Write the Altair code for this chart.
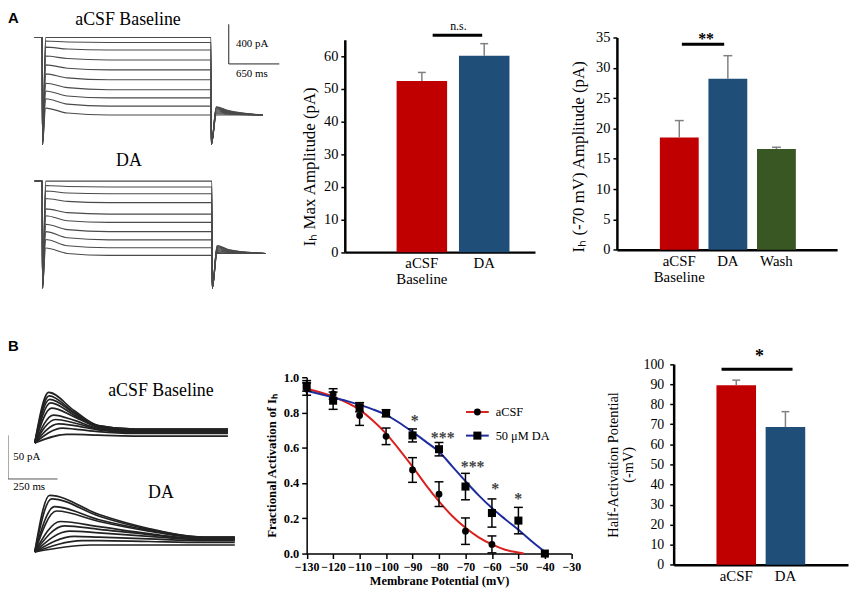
import altair as alt
import pandas as pd

SERIF = "Liberation Serif"
SANS = "Liberation Sans"

RED = "#C00000"
BLUE = "#1F4E79"
GREEN = "#385723"
ERRC = "#808080"
FIT_RED = "#D9211E"
FIT_BLUE = "#1F2C9E"

# ---------------- Panel A: Ih current traces (pA vs ms) ----------------
a_base_times = [0, 96, 100, 140, 420, 950, 2266, 2271, 2335, 2480, 2930]
a_da_times = [0, 96, 100, 140, 420, 950, 2278, 2283, 2345, 2490, 2970]
a_spike = -1080
a_base_peak = [0, -35, -97, -187, -277, -367, -462, -540, -618, -713]
a_base_mid = [0, -45, -117, -213, -310, -408, -506, -590, -673, -763]
a_base_steady = [0, -50, -127, -227, -327, -427, -527, -610, -693, -783]
a_base_tail_peak = [-700, -705, -712, -720, -730, -740, -750, -760, -770, -783]
a_base_tail_mid = [-735, -740, -745, -750, -755, -760, -765, -770, -775, -783]
a_base_tail_end = -783
a_da_peak = [0, -45, -100, -175, -280, -350, -435, -510, -590, -675]
a_da_mid = [0, -55, -120, -205, -318, -400, -490, -572, -652, -730]
a_da_steady = [0, -60, -127, -217, -333, -417, -510, -593, -673, -750]
a_da_tail_peak = [-650, -655, -662, -670, -680, -690, -700, -710, -720, -730]
a_da_tail_mid = [-690, -695, -700, -705, -710, -715, -720, -722, -726, -730]
a_da_tail_end = -730
a_da_offset = -1450

# ---------------- Panel A: bar charts ----------------
max_cats = ["aCSF Baseline", "DA"]
max_vals = [52.4, 60.1]
max_errs = [2.6, 3.7]

amp_cats = ["aCSF Baseline", "DA", "Wash"]
amp_vals = [18.5, 28.2, 16.6]
amp_errs = [2.8, 3.8, 0.3]

# ---------------- Panel B: tail current traces (pA vs ms) ----------------
b_start = -5
b_base_tpeak = [70, 72, 75, 80, 85, 95, 105, 120, 140, 160]
b_base_peak = [53, 49, 45, 41, 35, 27, 22, 17, 12, 5]
b_base_times = [200, 320, 500, 975]
b_base_v200 = [32, 30, 29, 27, 25, 21, 18, 15, 11, 5]
b_base_v320 = [15, 15, 14, 14, 13, 12, 11, 10, 8, 4]
b_base_plat = [11, 11, 10, 10, 9, 9, 8, 7, 6, 3]
b_da_tpeak = [75, 85, 100, 110, 130, 150, 175, 200, 240, 280]
b_da_peak = [60, 56, 47, 42, 30, 25, 19, 13, 8, 3]
b_da_times = [325, 575, 850, 1010]
b_da_v325 = [38, 36, 32, 30, 24, 21, 17, 12, 8, 3]
b_da_v575 = [22, 21, 20, 19, 16, 15, 13, 10, 7, 3]
b_da_plat = [12, 12, 11, 11, 10, 10, 9, 8, 6, 3]
b_da_offset = -125

# ---------------- Panel B: activation curves ----------------
series_names = ["aCSF", "50 μM DA"]
acsf_V = [-130, -120, -110, -100, -90, -80, -70, -60, -40]
acsf_mean = [0.933, 0.905, 0.783, 0.665, 0.474, 0.337, 0.127, 0.052, 0.0]
acsf_err = [0.035, 0.03, 0.056, 0.047, 0.07, 0.07, 0.075, 0.048, 0.0]
da_V = [-130, -120, -110, -100, -90, -80, -70, -60, -50, -40]
da_mean = [0.951, 0.867, 0.830, 0.796, 0.670, 0.592, 0.380, 0.230, 0.187, 0.0]
da_err = [0.03, 0.049, 0.026, 0.02, 0.037, 0.038, 0.075, 0.08, 0.075, 0.0]

fit_acsf_V = [-130, -125, -120, -115, -110, -105, -100, -95, -90, -85, -80, -75, -70, -65, -60, -55, -50, -48]
fit_acsf = [0.935, 0.915, 0.89, 0.857, 0.815, 0.755, 0.68, 0.59, 0.493, 0.39, 0.296, 0.213, 0.146, 0.092,
            0.052, 0.022, 0.006, 0.0]
fit_da_V = [-130, -125, -120, -115, -110, -105, -100, -95, -90, -85, -80, -75, -70, -65, -60, -55, -50, -45, -40]
fit_da = [0.923, 0.905, 0.886, 0.866, 0.843, 0.818, 0.787, 0.742, 0.69, 0.635, 0.577, 0.495, 0.41, 0.33,
          0.258, 0.195, 0.135, 0.07, 0.01]

star_V = [-89.2, -78.6, -67.3, -58.8, -50.1]
star_y = [0.768, 0.674, 0.506, 0.384, 0.328]
star_txt = ["*", "***", "***", "*", "*"]

# ---------------- Panel B: half activation ----------------
half_cats = ["aCSF", "DA"]
half_vals = [89.5, 68.6]
half_errs = [2.5, 7.7]

# ======================= layout helpers (page pixels -> plot pixels) =======================
W, H = 849, 580
O = 8


def p(v):
    return v - O


def sc_lin(domain, rng, zero=False):
    return alt.Scale(domain=domain, range=[p(rng[0]), p(rng[1])], nice=False, zero=zero)


def sc_band(cats, rng, pin, pout, al):
    return alt.Scale(domain=cats, range=[p(rng[0]), p(rng[1])], paddingInner=pin, paddingOuter=pout, align=al)


one = pd.DataFrame({"k": [0]})
L = []

# ======================= Panel A traces =======================
rows = []
for i in range(len(a_base_steady)):
    vals = [0, 0, a_spike, a_base_peak[i], a_base_mid[i], a_base_steady[i], a_base_steady[i],
            a_spike, a_base_tail_peak[i], a_base_tail_mid[i], a_base_tail_end]
    for t, v in zip(a_base_times, vals):
        rows.append({"t": t, "I": v, "trace": f"b{i}"})
for i in range(len(a_da_steady)):
    vals = [0, 0, a_spike, a_da_peak[i], a_da_mid[i], a_da_steady[i], a_da_steady[i],
            a_spike, a_da_tail_peak[i], a_da_tail_mid[i], a_da_tail_end]
    for t, v in zip(a_da_times, vals):
        rows.append({"t": t, "I": v + a_da_offset, "trace": f"d{i}"})
dfA = pd.DataFrame(rows)


def xA():
    return alt.X("t:Q", scale=sc_lin([0, 2930], [35, 265]), axis=None)


def yA():
    return alt.Y("I:Q", scale=sc_lin([-2600, 0], [295, 35]), axis=None)


L.append(alt.Chart(dfA).mark_line(interpolate="monotone", color="#4a4a4a", strokeWidth=1.1).encode(
    x=xA(), y=yA(), detail="trace:N"))
L.append(alt.Chart(pd.DataFrame({"t": [2495, 2495], "I": [133, -267], "t2": [2495, 3145], "I2": [-267, -267]}))
         .mark_rule(color="#222222", strokeWidth=1).encode(x=xA(), y=yA(), x2="t2:Q", y2="I2:Q"))
L.append(alt.Chart(pd.DataFrame({"t": [2588, 2588], "I": [-70, -370], "label": ["400 pA", "650 ms"]}))
         .mark_text(font=SERIF, fontSize=11, align="left", baseline="middle", color="black")
         .encode(x=xA(), y=yA(), text="label:N"))
L.append(alt.Chart(pd.DataFrame({"t": [1199, 1211], "I": [180, -1250], "label": ["aCSF Baseline", "DA"]}))
         .mark_text(font=SERIF, fontSize=18, align="center", baseline="middle", color="black")
         .encode(x=xA(), y=yA(), text="label:N"))
L.append(alt.Chart(one).mark_text(text="A", font=SANS, fontWeight="bold", fontSize=15, align="left",
                                  baseline="top", color="black").encode(x=alt.value(p(8)), y=alt.value(p(8))))


# ======================= bar helper =======================
def bar_layers(cats, vals, errs, colors, xr, pin, pout, al, ydom, yr, yticks, ytitle, ykw, cap,
               xlabsize=15, ylabsize=14.5, ylabpad=3):
    df = pd.DataFrame({"cat": cats, "val": vals, "top": [v + e for v, e in zip(vals, errs)]})

    def xe(axis=None):
        return alt.X("cat:N", sort=cats, scale=sc_band(cats, xr, pin, pout, al), axis=axis)

    def ye(field="val", axis=None):
        return alt.Y(f"{field}:Q", scale=sc_lin(ydom, yr, zero=True), axis=axis)

    xaxis = alt.Axis(orient="bottom", offset=p(yr[0]) - H, title=None, labelAngle=0, ticks=False,
                     domainColor="black", domainWidth=2.5, labelFont=SERIF, labelFontSize=xlabsize,
                     labelColor="black", labelPadding=4, labelLineHeight=16, labelOverlap=False,
                     labelExpr="split(datum.value, ' ')")
    yaxis = alt.Axis(orient="left", offset=-p(xr[0]), values=yticks, title=ytitle, grid=False,
                     domainColor="black", domainWidth=2.5, tickColor="black", tickWidth=1.5, tickSize=4,
                     labelFont=SERIF, labelFontSize=ylabsize, labelColor="black", labelPadding=ylabpad,
                     titleFont=SERIF, titleFontWeight="normal", titleColor="black", **ykw)
    out = [
        alt.Chart(df).mark_bar().encode(
            x=xe(xaxis), y=ye("val", yaxis),
            color=alt.Color("cat:N", scale=alt.Scale(domain=cats, range=colors), legend=None)),
        alt.Chart(df).mark_rule(color=ERRC, strokeWidth=1.5).encode(x=xe(), y=ye("val"), y2="top:Q"),
        alt.Chart(df).mark_tick(color=ERRC, thickness=1.5, size=cap, orient="horizontal", opacity=1).encode(
            x=xe(), y=ye("top")),
    ]
    return out, ye


# ======================= Panel A bar 1 =======================
l2, ye2 = bar_layers(max_cats, max_vals, max_errs, [RED, BLUE], [348, 540], 0.19, 0.62, 0.67,
                     [0, 65], [251.7, 37.3], list(range(0, 61, 10)), "Iₕ Max Amplitude (pA)",
                     dict(titleFontSize=17, titleX=-26.5, titleY=p(165), titleAngle=270, titleAlign="center",
                          titleBaseline="bottom"), 8)
L += l2
L.append(alt.Chart(pd.DataFrame({"val": [66.4]})).mark_rule(color="black", strokeWidth=3).encode(
    x=alt.value(p(436.7)), x2=alt.value(p(486.7)), y=ye2("val")))
L.append(alt.Chart(pd.DataFrame({"val": [69.2]})).mark_text(text="n.s.", font=SERIF, fontSize=12, color="black",
                                                             baseline="middle").encode(
    x=alt.value(p(462.7)), y=ye2("val")))

# ======================= Panel A bar 2 =======================
l3, ye3 = bar_layers(amp_cats, amp_vals, amp_errs, [RED, BLUE, GREEN], [622.7, 845], 0.2, 0.867, 0.51,
                     [0, 35], [249.3, 35], list(range(0, 36, 5)), "Iₕ (-70 mV) Amplitude (pA)",
                     dict(titleFontSize=17, titleX=-30.2, titleY=p(155), titleAngle=270, titleAlign="center",
                          titleBaseline="bottom"), 9)
L += l3
L.append(alt.Chart(pd.DataFrame({"val": [33.9]})).mark_rule(color="black", strokeWidth=3).encode(
    x=alt.value(p(688.3)), x2=alt.value(p(731)), y=ye3("val")))
L.append(alt.Chart(pd.DataFrame({"val": [35.2]})).mark_text(text="**", font=SERIF, fontSize=16, fontWeight="bold",
                                                             color="black", baseline="middle", dy=3).encode(
    x=alt.value(p(712.7)), y=ye3("val")))

# ======================= Panel B traces =======================
rowsB = []
for i in range(len(b_base_peak)):
    ts = [0, b_base_tpeak[i]] + b_base_times
    vs = [b_start, b_base_peak[i], b_base_v200[i], b_base_v320[i], b_base_plat[i], b_base_plat[i]]
    for t, v in zip(ts, vs):
        rowsB.append({"t": t, "I": v, "trace": f"b{i}"})
for i in range(len(b_da_peak)):
    ts = [0, b_da_tpeak[i]] + b_da_times
    vs = [b_start, b_da_peak[i], b_da_v325[i], b_da_v575[i], b_da_plat[i], b_da_plat[i]]
    for t, v in zip(ts, vs):
        rowsB.append({"t": t, "I": v + b_da_offset, "trace": f"d{i}"})
dfB = pd.DataFrame(rowsB)


def xB():
    return alt.X("t:Q", scale=sc_lin([0, 1000], [35, 235]), axis=None)


def yB():
    return alt.Y("I:Q", scale=sc_lin([-150, 100], [572, 352]), axis=None)


L.append(alt.Chart(dfB).mark_line(interpolate="monotone", color="#222222", strokeWidth=1.7).encode(
    x=xB(), y=yB(), detail="trace:N"))
L.append(alt.Chart(pd.DataFrame({"t": [-135, -135], "I": [3.75, -46.25], "t2": [-135, 115], "I2": [-46.25, -46.25]}))
         .mark_rule(color="#555555", strokeWidth=1).encode(x=xB(), y=yB(), x2="t2:Q", y2="I2:Q"))
L.append(alt.Chart(pd.DataFrame({"t": [-108, -108], "I": [-20.5, -55.7], "label": ["50 pA", "250 ms"]}))
         .mark_text(font=SERIF, fontSize=11, align="left", baseline="middle", color="black")
         .encode(x=xB(), y=yB(), text="label:N"))
L.append(alt.Chart(pd.DataFrame({"t": [637, 637], "I": [54.9, -62.5], "label": ["aCSF Baseline", "DA"]}))
         .mark_text(font=SERIF, fontSize=18, align="center", baseline="middle", color="black")
         .encode(x=xB(), y=yB(), text="label:N"))
L.append(alt.Chart(one).mark_text(text="B", font=SANS, fontWeight="bold", fontSize=15, align="left",
                                  baseline="top", color="black").encode(x=alt.value(p(8)), y=alt.value(p(339))))

# ======================= Panel B activation =======================
XR5, YR5 = [309.5, 576.7], [556, 378]


def xF(field="V", axis=None):
    return alt.X(f"{field}:Q", scale=sc_lin([-130, -30], XR5), axis=axis)


def yF(field="frac", axis=None):
    return alt.Y(f"{field}:Q", scale=sc_lin([0, 1], YR5), axis=axis)


ax5x = alt.Axis(orient="bottom", offset=p(YR5[0]) - H, values=list(range(-130, -29, 10)),
                title="Membrane Potential (mV)", grid=False, domainColor="black", domainWidth=1.5,
                tickColor="black", tickWidth=1.5, tickSize=5, labelFont=SERIF, labelFontWeight="bold",
                labelFontSize=12, labelColor="black", labelPadding=3, labelFlush=False, labelOverlap=False,
                titleFont=SERIF, titleFontWeight="bold", titleFontSize=12.5, titleColor="black", titlePadding=2)
ax5y = alt.Axis(orient="left", offset=-p(XR5[0]), values=[0, 0.2, 0.4, 0.6, 0.8, 1.0], format=".1f",
                title="Fractional Activation of Iₕ", grid=False, domainColor="black", domainWidth=1.5,
                tickColor="black", tickWidth=1.5, tickSize=5, labelFont=SERIF, labelFontWeight="bold",
                labelFontSize=12.5, labelColor="black", labelPadding=3, labelFlush=False, labelOverlap=False,
                titleFont=SERIF, titleFontWeight="bold", titleFontSize=13, titleColor="black", titlePadding=5)


def col_s():
    return alt.Color("series:N", scale=alt.Scale(domain=series_names, range=[FIT_RED, FIT_BLUE]), legend=None)


fit_df = pd.DataFrame({"V": fit_acsf_V + fit_da_V, "frac": fit_acsf + fit_da,
                       "series": [series_names[0]] * len(fit_acsf_V) + [series_names[1]] * len(fit_da_V)})
pts_acsf = pd.DataFrame({"V": acsf_V, "frac": acsf_mean,
                         "lo": [m - e for m, e in zip(acsf_mean, acsf_err)],
                         "hi": [m + e for m, e in zip(acsf_mean, acsf_err)], "err": acsf_err})
pts_da = pd.DataFrame({"V": da_V, "frac": da_mean,
                       "lo": [m - e for m, e in zip(da_mean, da_err)],
                       "hi": [m + e for m, e in zip(da_mean, da_err)], "err": da_err})
pts_all = pd.concat([pts_acsf, pts_da], ignore_index=True)
pts_all = pts_all[pts_all["err"] > 0]

L.append(alt.Chart(fit_df).mark_line(strokeWidth=2, interpolate="monotone").encode(
    x=xF("V", ax5x), y=yF("frac", ax5y), color=col_s(), detail="series:N"))
L.append(alt.Chart(pts_all).mark_rule(color="black", strokeWidth=1.5).encode(x=xF(), y=yF("lo"), y2="hi:Q"))
L.append(alt.Chart(pts_all).mark_tick(color="black", thickness=1.5, size=9, orient="horizontal", opacity=1).encode(
    x=xF(), y=yF("lo")))
L.append(alt.Chart(pts_all).mark_tick(color="black", thickness=1.5, size=9, orient="horizontal", opacity=1).encode(
    x=xF(), y=yF("hi")))
L.append(alt.Chart(pts_acsf).mark_point(shape="circle", size=48, filled=True, color="black", opacity=1).encode(
    x=xF(), y=yF()))
L.append(alt.Chart(pts_da).mark_point(shape="square", size=66, filled=True, color="black", opacity=1).encode(
    x=xF(), y=yF()))
L.append(alt.Chart(pd.DataFrame({"V": star_V, "frac": star_y, "label": star_txt})).mark_text(
    font=SERIF, fontSize=16, fontWeight="bold", color="#444444", baseline="middle", dy=3).encode(
    x=xF(), y=yF(), text="label:N"))
leg_df = pd.DataFrame({"V": [-69.8, -69.8], "V2": [-61.2, -61.2], "frac": [0.803, 0.669],
                       "series": series_names, "Vm": [-65.5, -65.5], "Vt": [-58.6, -58.6]})
L.append(alt.Chart(leg_df).mark_rule(strokeWidth=2).encode(x=xF(), x2="V2:Q", y=yF(), color=col_s()))
L.append(alt.Chart(leg_df.iloc[[0]]).mark_point(shape="circle", size=48, filled=True, color="black", opacity=1)
         .encode(x=xF("Vm"), y=yF()))
L.append(alt.Chart(leg_df.iloc[[1]]).mark_point(shape="square", size=66, filled=True, color="black", opacity=1)
         .encode(x=xF("Vm"), y=yF()))
L.append(alt.Chart(leg_df).mark_text(font=SERIF, fontSize=12.5, align="left", baseline="middle", color="black")
         .encode(x=xF("Vt"), y=yF(), text="series:N"))

# ======================= Panel B half activation =======================
l6, ye6 = bar_layers(half_cats, half_vals, half_errs, [RED, BLUE], [680, 856], 0.195, 0.87, 0.5,
                     [0, 100], [567.3, 364.7], list(range(0, 101, 10)),
                     ["Half-Activation Potential", "(-mV)"],
                     dict(titleFontSize=14.5, titlePadding=8, titleLineHeight=15), 8,
                     xlabsize=15, ylabsize=14, ylabpad=6)
L += l6
L.append(alt.Chart(pd.DataFrame({"val": [97.4]})).mark_rule(color="black", strokeWidth=3).encode(
    x=alt.value(p(728.3)), x2=alt.value(p(800)), y=ye6("val")))
L.append(alt.Chart(pd.DataFrame({"val": [104.8]})).mark_text(text="*", font=SERIF, fontSize=18, fontWeight="bold",
                                                              color="black", baseline="middle", dy=3).encode(
    x=alt.value(p(766.7)), y=ye6("val")))

chart = alt.layer(*L).resolve_scale(
    x="independent", y="independent", color="independent"
).resolve_axis(x="independent", y="independent").properties(
    width=W, height=H, padding=0, autosize=alt.AutoSizeParams(type="none"), background="white"
).configure_view(stroke=None)

chart.save("out.html", embed_options={"renderer": "svg", "actions": False})
